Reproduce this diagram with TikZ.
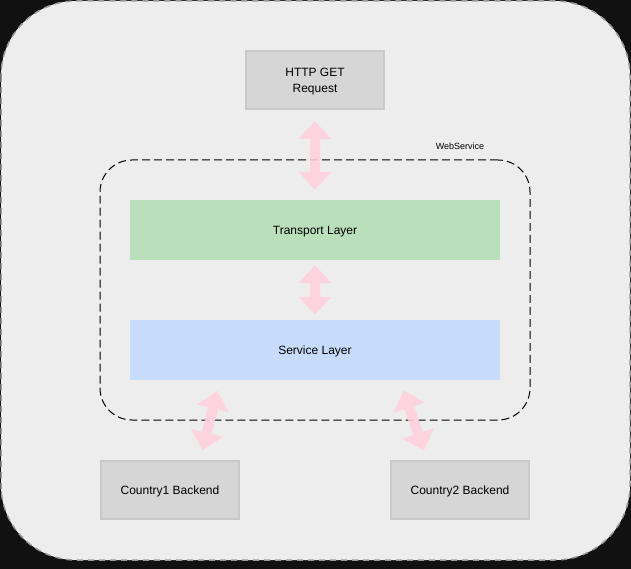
\documentclass[tikz,border=0pt]{standalone}
\usepackage{fontspec}
\setmainfont{Liberation Sans}
\usepackage{tikz}
\usetikzlibrary{arrows.meta}
\usetikzlibrary{positioning}

\definecolor{pagebg}{HTML}{111111}
\definecolor{canvas}{HTML}{EDEDED}
\definecolor{boxgray}{HTML}{D6D6D6}
\definecolor{boxline}{HTML}{C9C9C9}
\definecolor{transgreen}{HTML}{BADFBB}
\definecolor{servblue}{HTML}{C7DBFB}
\definecolor{linkpink}{HTML}{FFD0DC}

\tikzset{
   endpoint/.style={draw=boxline, line width=2pt, fill=boxgray, minimum width=138pt,
      minimum height=58pt, align=center, text depth=0pt, font=\fontsize{12}{16}\selectfont},
   layer/.style={minimum width=370pt, minimum height=60pt, text depth=0pt,
      font=\fontsize{12}{14}\selectfont},
   twoway/.style={draw=linkpink, line width=10pt,
      {Triangle[length=18pt,width=32pt]}-{Triangle[length=18pt,width=32pt]}}
}

\begin{document}
\begin{tikzpicture}[x=1pt, y=-1pt]
   \useasboundingbox (0,0) rectangle (631,569);
   \fill[pagebg] (0,0) rectangle (631,569);
   \draw[fill=canvas, draw=gray!80, line width=1.5pt, dash pattern=on 6pt off 5pt,
      rounded corners=75pt] (1,1) rectangle (630,560);

   \node[draw=black, line width=1pt, dash pattern=on 8pt off 4pt, rounded corners=32pt,
      minimum width=430pt, minimum height=260pt] (websvc) at (315,290) {};
   \node[font=\fontsize{9}{11}\selectfont] (wslabel) at (460,146) {WebService};

   \node[endpoint] (http) at (315,80) {HTTP GET\\Request};
   \node[layer, fill=transgreen] (transport) at (315,230) {Transport Layer};
   \node[layer, fill=servblue] (service) at (315,350) {Service Layer};
   \node[endpoint] (country1) at (170,490) {Country1 Backend};
   \node[endpoint] (country2) at (460,490) {Country2 Backend};

   \begin{scope}[transparency group, opacity=.88]
      \path (http) edge[twoway, shorten <=11pt, shorten >=10pt] (transport);
   \end{scope}
   \begin{scope}[transparency group, opacity=.88]
      \path (transport) edge[twoway, shorten <=5pt, shorten >=5pt] (service);
   \end{scope}
   \begin{scope}[transparency group, opacity=.88]
      \path ([xshift=-95pt]service.south) edge[twoway, shorten <=11pt, shorten >=10pt]
         ([xshift=30pt]country1.north);
   \end{scope}
   \begin{scope}[transparency group, opacity=.88]
      \path ([xshift=85pt]service.south) edge[twoway, shorten <=11pt, shorten >=10pt]
         ([xshift=-33pt]country2.north);
   \end{scope}
\end{tikzpicture}
\end{document}
